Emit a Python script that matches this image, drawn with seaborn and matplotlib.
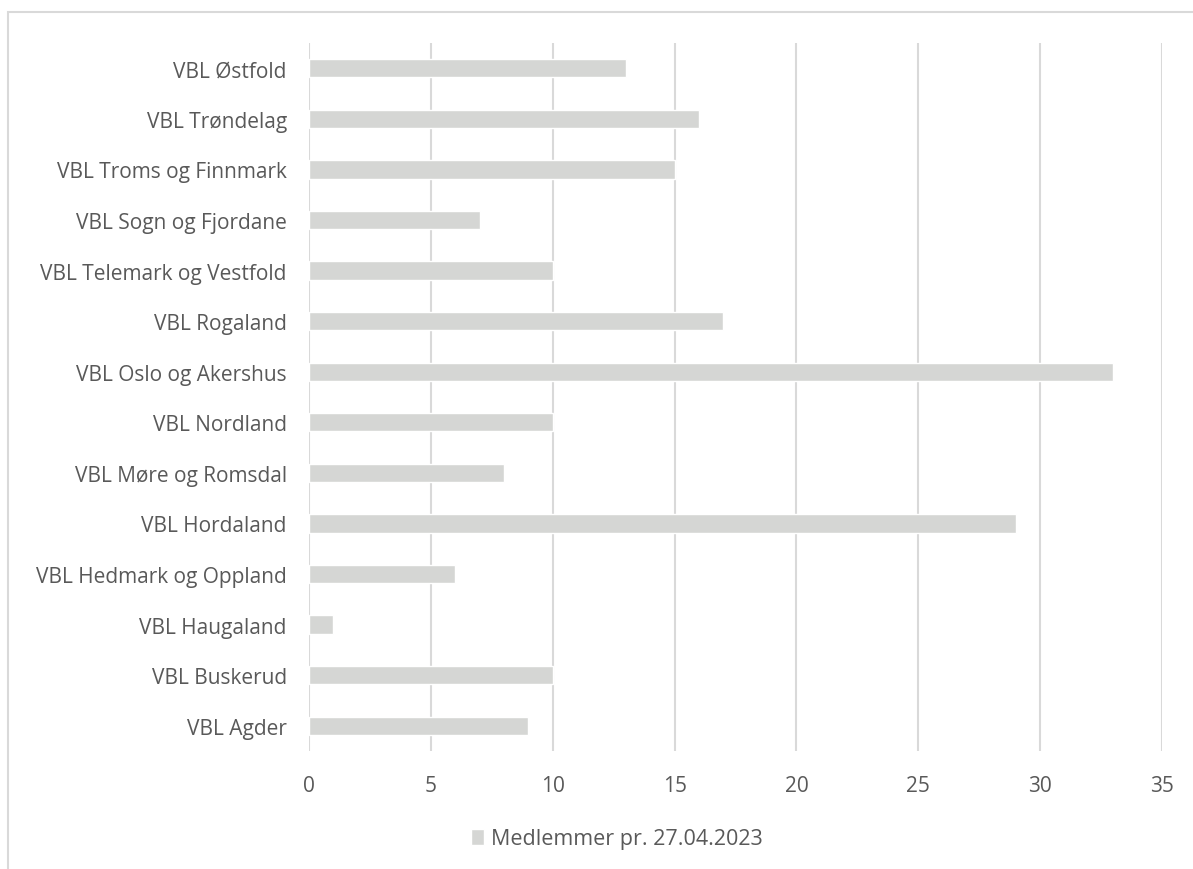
import matplotlib
matplotlib.use("Agg")
import matplotlib.pyplot as plt
import seaborn as sns
import pandas as pd
from matplotlib.patches import Rectangle

categories = ["VBL Østfold", "VBL Trøndelag", "VBL Troms og Finnmark", "VBL Sogn og Fjordane",
              "VBL Telemark og Vestfold", "VBL Rogaland", "VBL Oslo og Akershus", "VBL Nordland",
              "VBL Møre og Romsdal", "VBL Hordaland", "VBL Hedmark og Oppland", "VBL Haugaland",
              "VBL Buskerud", "VBL Agder"]
values = [13, 16, 15, 7, 10, 17, 33, 10, 8, 29, 6, 1, 10, 9]
series_name = "Medlemmer pr. 27.04.2023"
x_ticks = [0, 5, 10, 15, 20, 25, 30, 35]

df = pd.DataFrame({"Kategori": categories, "Verdi": values})

sns.set_theme(style="white")
plt.rcParams['font.family'] = ['Open Sans', 'DejaVu Sans']

W, H = 1193, 870
fig = plt.figure(figsize=(W/100, H/100), dpi=100)
ax = fig.add_axes([309/W, 1-752/H, (1162-309)/W, (752-44)/H])

bar_color = "#d5d6d4"
text_color = "#595959"
sns.barplot(data=df, x="Verdi", y="Kategori", orient="h", color=bar_color,
            width=0.36, ax=ax, saturation=1, label=series_name)

ax.set_xlim(0, 35)
ax.set_ylim(len(categories)-0.5, -0.5)
ax.set_xticks(x_ticks)
ax.set_xlabel("")
ax.set_ylabel("")
for s in ax.spines.values():
    s.set_visible(False)
ax.grid(axis="x", color="#d9d9d9", linewidth=1.5)
ax.set_axisbelow(True)
ax.tick_params(axis="both", length=0, labelsize=15, colors=text_color)
ax.tick_params(axis="y", pad=16)
ax.tick_params(axis="x", pad=17)

leg = ax.legend(loc="center", bbox_to_anchor=(617/W, 1-840/H), bbox_transform=fig.transFigure,
                frameon=False, fontsize=15.5, handlelength=0.6, handleheight=0.7,
                handletextpad=0.3, labelcolor=text_color)

fig.patches.append(Rectangle((8/W, -0.1), 1.2, 1-13/H+0.1, transform=fig.transFigure,
                             fill=False, edgecolor="#d9d9d9", linewidth=1.5))

fig.savefig("out.png", dpi=100)
